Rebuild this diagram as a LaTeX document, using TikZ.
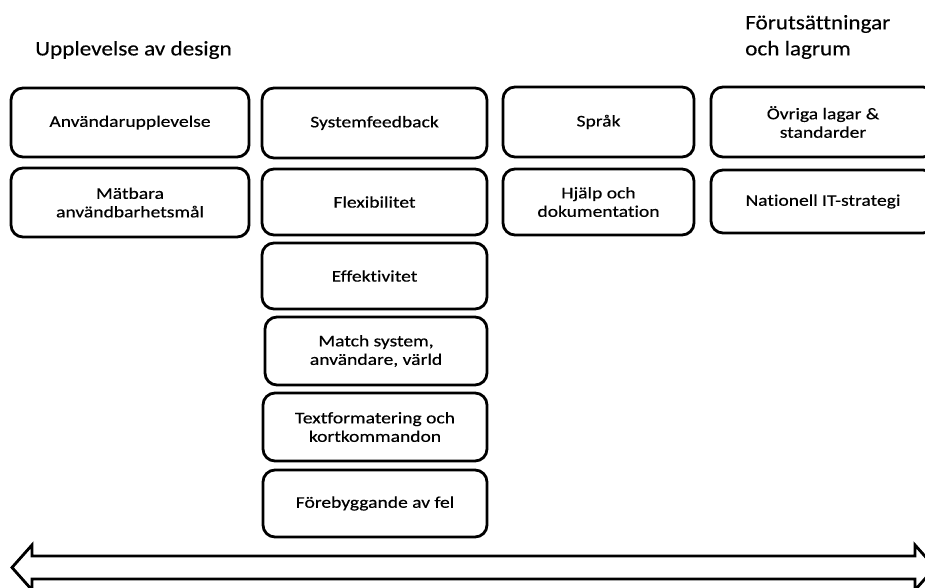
\documentclass[tikz,border=0pt]{standalone}
\usepackage{fontspec}
\setmainfont{Carlito}
\newfontfamily\boxfont[FakeStretch=1.2,FakeBold=0.4,Ligatures=NoCommon]{Carlito}
\newfontfamily\headfont[FakeStretch=1.12,FakeBold=0.3,Ligatures=NoCommon]{Carlito}
\begin{document}
\begin{tikzpicture}[x=1pt,y=-1pt,
  card/.style={draw=black, line width=2.8pt, rounded corners=12pt, fill=white,
    align=center, font=\boxfont\fontsize{16.3}{18.5}\selectfont, inner sep=0pt},
  heading/.style={anchor=west, align=left, font=\headfont\fontsize{20.7}{26}\selectfont, inner sep=0pt}]
\useasboundingbox (0,0) rectangle (925,587);
\clip (0,0) rectangle (925,587);
% headings
\node[heading] (h1) at (35,50) {Upplevelse av design};
\node[heading] (h2) at (745,37) {Förutsättningar\\och lagrum};
% column 1
\node[card, minimum width=238pt, minimum height=69pt] (a1) at (130,122.5) {Användarupplevelse};
\node[card, minimum width=238pt, minimum height=69pt] (a2) at (130,202.5) {Mätbara\\användbarhetsmål};
% column 2
\node[card, minimum width=225pt, minimum height=70pt] (b1) at (374.5,123) {Systemfeedback};
\node[card, minimum width=225pt, minimum height=66pt] (b2) at (374.5,202) {Flexibilitet};
\node[card, minimum width=225pt, minimum height=66pt] (b3) at (374.5,276) {Effektivitet};
\node[card, minimum width=222pt, minimum height=68pt] (b4) at (376,351) {Match system,\\användare, värld};
\node[card, minimum width=224pt, minimum height=68pt] (b5) at (375,427) {Textformatering och\\kortkommandon};
\node[card, minimum width=224pt, minimum height=67pt] (b6) at (375,503.5) {Förebyggande av fel};
% column 3
\node[card, minimum width=191pt, minimum height=70pt] (c1) at (598.5,122) {Språk};
\node[card, minimum width=191pt, minimum height=66pt] (c2) at (598.5,202) {Hjälp och\\dokumentation};
% column 4
\node[card, minimum width=224pt, minimum height=70pt] (d1) at (823,122) {Övriga lagar \&\\standarder};
\node[card, minimum width=224pt, minimum height=63pt] (d2) at (823,201.5) {Nationell IT-strategi};
% double block arrow
\draw[line width=2.8pt, line join=miter, fill=white]
  (12,567.5) -- (32,545) -- (32,556) -- (915,556) -- (915,545) -- (935,567.5)
  -- (915,590) -- (915,579) -- (32,579) -- (32,590) -- cycle;
\end{tikzpicture}
\end{document}
